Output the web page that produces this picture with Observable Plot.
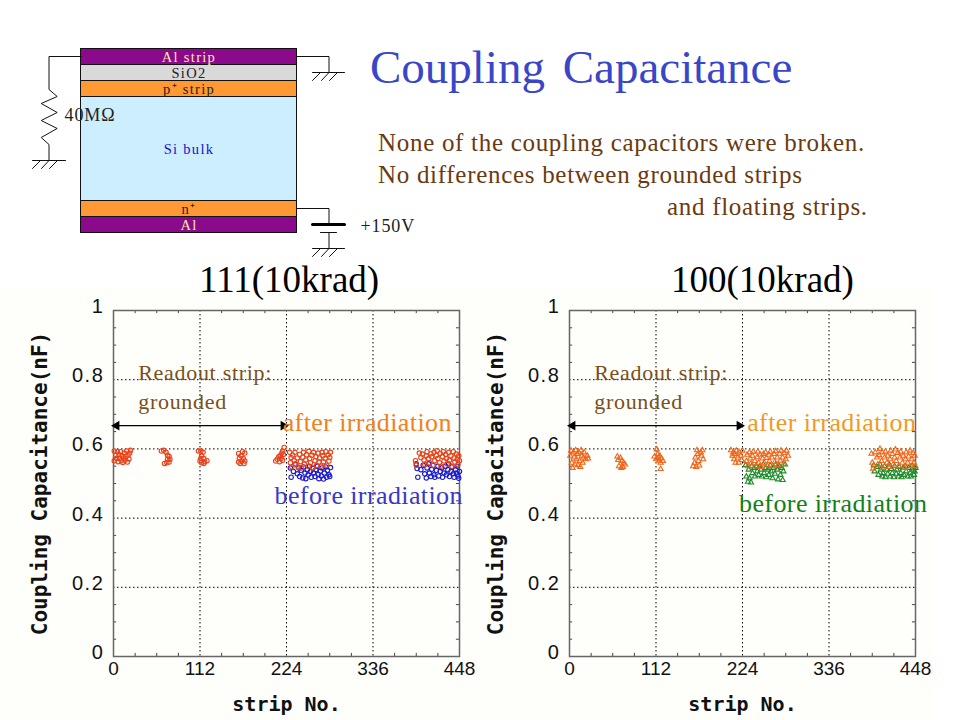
<!DOCTYPE html>
<html><head><meta charset="utf-8">
<script src="https://cdn.jsdelivr.net/npm/d3@7"></script>
<script src="https://cdn.jsdelivr.net/npm/@observablehq/plot@0.6"></script>
<style>
html,body{margin:0;padding:0;background:#fff;width:960px;height:720px;overflow:hidden}
#page{position:relative;width:960px;height:720px;font-family:"Liberation Serif",serif}
#page>div.t{position:absolute;white-space:pre;line-height:1}
#page svg{position:absolute;overflow:visible}
#band{position:absolute;left:0;top:285px;width:932px;height:435px;background:#fefefb}
.ls7 text{letter-spacing:.7px}
.ls4 text{letter-spacing:.4px}
.ls13 text{letter-spacing:1.3px}
.ls9 text{letter-spacing:.9px}
.lsy text{letter-spacing:1.6px}
</style></head><body><div id="page"><div id="band"></div></div>
<script>
// ---------- strip / capacitance ----------
const leftAfter = [
[1,.594],[1,.566],[3,.581],[4,.572],[5,.592],[6,.563],[7,.584],[8,.573],[9,.592],[10,.566],[11,.58],[12,.561],[13,.574],[14,.588],[15,.567],[16,.578],[17,.594],[18,.562],[19,.582],[20,.571],[21,.588],[22,.596],
[62,.594],[65,.596],[68,.59],[70,.582],[72,.578],[73,.57],[72,.562],[69,.56],[66,.558],[70,.57],
[110,.594],[113,.594],[116,.59],[114,.58],[117,.572],[113,.572],[112,.565],[114,.56],[118,.563],[121,.566],[117,.558],
[162,.587],[165,.58],[170,.588],[163,.573],[168,.572],[166,.565],[162,.562],[170,.565],[164,.558],[169,.558],[167,.592],
[210,.565],[212,.57],[215,.563],[214,.577],[216,.581],[217,.572],[218,.588],[219,.594],[220,.584],[221,.604],[219,.567],
[228,.59],[230,.575],[229,.56],[232,.582],[231,.548],[234,.566],[235,.59],[236,.556],[238,.574],[239,.548],[241,.584],[242,.563],[243,.545],[245,.576],[246,.59],[247,.556],[249,.568],[250,.583],[252,.55],[253,.593],[254,.572],[255,.56],[257,.582],[258,.545],[259,.59],[261,.566],[262,.577],[263,.552],[265,.588],[266,.562],[267,.574],[269,.55],[270,.59],[271,.58],[272,.563],[274,.572],[275,.592],[276,.553],[278,.583],[279,.565],[280,.575],[281,.59],
[391,.566],[392,.553],[396,.588],[398,.575],[400,.585],[402,.568],[403,.555],[405,.58],[406,.592],[408,.572],[409,.56],[411,.586],[412,.577],[414,.553],[415,.59],[416,.566],[418,.581],[419,.595],[420,.572],[422,.56],[423,.587],[424,.55],[426,.578],[427,.592],[428,.565],[430,.584],[431,.572],[432,.556],[434,.59],[435,.567],[437,.58],[438,.55],[440,.592],[441,.574],[442,.562],[444,.585],[445,.57],[446,.555],[447,.58],[448,.566]
];
const leftBefore = [
[229,.545],[230,.518],[233,.535],[235,.556],[238,.528],[240,.545],[241,.52],[243,.538],[245,.516],[246,.548],[248,.53],[249,.514],[251,.54],[252,.525],[254,.55],[255,.535],[256,.518],[258,.544],[259,.53],[261,.52],[262,.54],[264,.55],[265,.526],[266,.514],[268,.536],[269,.522],[270,.545],[272,.513],[273,.53],[275,.548],[276,.518],[277,.538],[279,.525],[280,.52],[281,.546],
[392,.557],[393,.543],[394,.518],[398,.54],[401,.553],[403,.528],[405,.516],[406,.545],[408,.557],[409,.53],[411,.52],[412,.541],[414,.552],[415,.525],[416,.518],[418,.538],[420,.55],[421,.522],[423,.535],[425,.545],[426,.518],[428,.53],[430,.55],[431,.525],[433,.54],[434,.556],[435,.52],[437,.535],[438,.548],[440,.528],[441,.518],[443,.54],[444,.53],[445,.55],[446,.522],[447,.515],[448,.535]
];
const rightAfter = [
[1,.58],[2,.595],[3,.56],[4,.545],[5,.59],[6,.575],[7,.555],[8,.596],[9,.57],[10,.585],[11,.553],[12,.59],[13,.565],[14,.548],[15,.596],[16,.58],[17,.56],[18,.575],[19,.59],[21,.57],[23,.58],[24,.572],
[62,.578],[63,.568],[64,.55],[66,.574],[67,.545],[68,.565],[69,.548],[70,.56],[72,.555],
[110,.578],[112,.57],[113,.598],[114,.585],[115,.574],[116,.566],[117,.58],[118,.56],[119,.572],[121,.565],[118,.542],
[160,.55],[162,.56],[163,.575],[164,.548],[165,.596],[166,.585],[167,.565],[168,.552],[170,.59],[171,.58],[172,.596],[173,.57],
[209,.596],[211,.58],[212,.59],[213,.57],[214,.585],[215,.56],[216,.595],[218,.575],[219,.56],[220,.59],[222,.58],[223,.568],[224,.595],
[229,.565],[230,.583],[231,.55],[233,.59],[234,.572],[235,.558],[237,.58],[238,.592],[240,.565],[241,.55],[243,.576],[244,.592],[245,.56],[247,.583],[248,.548],[250,.572],[251,.585],[252,.56],[254,.59],[255,.574],[256,.552],[258,.583],[259,.565],[260,.592],[262,.575],[263,.55],[265,.585],[266,.562],[267,.593],[269,.575],[270,.553],[272,.586],[273,.566],[274,.595],[276,.575],[277,.556],[278,.588],[280,.57],[281,.595],[283,.58],
[391,.586],[392,.56],[393,.543],[396,.59],[398,.575],[399,.555],[401,.582],[402,.6],[404,.565],[405,.59],[406,.545],[408,.575],[409,.592],[411,.56],[412,.58],[414,.548],[415,.57],[416,.595],[418,.585],[419,.555],[421,.575],[422,.598],[423,.565],[425,.588],[426,.55],[428,.575],[429,.592],[431,.56],[432,.58],[434,.545],[435,.57],[436,.59],[438,.56],[439,.578],[441,.595],[442,.55],[443,.57],[445,.588],[446,.56],[447,.58],[448,.55]
];
const rightBefore = [
[228,.553],[229,.52],[231,.505],[232,.54],[233,.515],[235,.503],[236,.55],[237,.53],[239,.545],[240,.52],[242,.55],[243,.535],[245,.525],[246,.548],[248,.54],[249,.52],[251,.555],[252,.53],[254,.545],[255,.518],[257,.54],[258,.525],[260,.552],[261,.535],[263,.515],[264,.545],[266,.528],[267,.555],[269,.54],[270,.512],[272,.55],[273,.525],[275,.545],[276,.51],[277,.535],[279,.555],
[394,.553],[395,.535],[398,.548],[400,.525],[402,.555],[403,.54],[405,.52],[406,.53],[408,.55],[409,.518],[411,.54],[412,.528],[414,.555],[415,.52],[417,.542],[418,.53],[420,.518],[421,.55],[423,.528],[424,.54],[426,.52],[427,.548],[429,.53],[430,.518],[432,.545],[433,.525],[435,.55],[436,.535],[438,.52],[439,.545],[441,.53],[442,.52],[444,.552],[445,.54],[446,.525],[447,.535],[448,.545]
];
const xTicks = [0,112,224,336,448];
const xMinor = [28,56,84,140,168,196,252,280,308,364,392,420];
const yTicks = [0,.2,.4,.6,.8,1];
const yMinor = [.05,.1,.15,.25,.3,.35,.45,.5,.55,.65,.7,.75,.85,.9,.95];

// ---------- device cross-section ----------
const layerNames = ["Al strip","SiO2","p⁺ strip","Si bulk","n⁺","Al"];
const layerThick = [16,16,16,104,16,16];
const layerFill  = ["#8b0a8b","#d9d9d9","#ff9933","#cceeff","#ff9933","#8b0a8b"];
const layerInk   = ["#ffe9a8","#222222","#222222","#1414d0","#222222","#ffe9a8"];
const wires = [
 [[81,56],[48.5,56],[48.5,89],[56.7,96],[40.7,103],[56.7,112],[40.7,120],[56.7,128],[40.7,137],[48.5,144],[48.5,160]],
 [[32,160],[65,160]],[[40,160],[32,168]],[[48.5,160],[41,168]],[[57,160],[49,168]],
 [[296,56],[328.5,56],[328.5,72]],[[312,72],[344,72]],[[320,72],[312,80]],[[328.5,72],[321,80]],[[337,72],[329,80]],
 [[296,208],[328.5,208],[328.5,224]],[[320,232],[336,232]],[[328.5,232],[328.5,248]],[[312,248],[344,248]],[[320,248],[312,256]],[[328.5,248],[321,256]],[[337,248],[329,256]]
];
const batteryPlate = [[312,224],[344,224]];
const notes = [{x:64,y:115,t:"40MΩ"},{x:360,y:226,t:"+150V"}];

const tops = d3.cumsum([48.5,...layerThick]);
const layers = layerNames.map((n,i)=>({n,fill:layerFill[i],ink:layerInk[i],y1:tops[i],y2:tops[i+1]}));

const page = document.getElementById("page");
const diagram = Plot.plot({
  width:430,height:262,margin:0,
  x:{domain:[0,430],range:[0,430],axis:null},
  y:{domain:[0,262],range:[0,262],axis:null},
  style:{background:"transparent",fontFamily:"'Liberation Serif',serif"},
  marks:[
    Plot.rect(layers,{x1:()=>80.5,x2:()=>296.5,y1:"y1",y2:"y2",fill:"fill",stroke:"#111",strokeWidth:1}),
    Plot.text(layers,{x:()=>188.5,y:d=>(d.y1+d.y2)/2,text:"n",fill:"ink",fontSize:14.5,textAnchor:"middle",className:"ls13"}),
    ...wires.map(w=>Plot.line(w,{x:"0",y:"1",stroke:"#111",strokeWidth:1,curve:"linear"})),
    Plot.line(batteryPlate,{x:"0",y:"1",stroke:"#000",strokeWidth:3}),
    Plot.text(notes,{x:"x",y:"y",text:"t",fill:"#222",fontSize:18,textAnchor:"start",className:"ls9"})
  ]
});
diagram.style.left="0";diagram.style.top="0";page.append(diagram);

function chart(left,after,before,afterC,beforeC,sym,r,notesAt){
  const serif="'Liberation Serif',serif", sans="'Liberation Sans',sans-serif";
  const p = Plot.plot({
    width:480,height:435,marginLeft:113,marginRight:21,marginTop:25,marginBottom:64,
    x:{domain:[0,448],axis:null},
    y:{domain:[0,1],axis:null},
    style:{background:"transparent",fontFamily:"'DejaVu Sans Mono',monospace"},
    marks:[
      Plot.gridX(xTicks.slice(1,-1),{stroke:"#000",strokeOpacity:1,strokeWidth:1,strokeDasharray:"1.5 2.5"}),
      Plot.gridY(yTicks.slice(1,-1),{stroke:"#000",strokeOpacity:1,strokeWidth:1,strokeDasharray:"1.5 2.5"}),
      Plot.ruleX(xMinor,{y1:()=>0,y2:()=>.009,stroke:"#444"}),
      Plot.ruleX(xMinor,{y1:()=>.991,y2:()=>1,stroke:"#444"}),
      Plot.ruleY(yMinor,{x1:()=>0,x2:()=>4,stroke:"#444"}),
      Plot.ruleY(yMinor,{x1:()=>444,x2:()=>448,stroke:"#444"}),
      Plot.axisX({anchor:"bottom",ticks:xTicks,tickSize:0,tickPadding:5,fontSize:19,fontFamily:sans,fill:"#111",label:null,tickFormat:d=>String(d)}),
      Plot.axisY({anchor:"left",ticks:yTicks,tickSize:0,tickPadding:9,dy:-4,fontSize:20,fontFamily:sans,fill:"#111",label:null,className:"lsy",tickFormat:d=>String(d)}),
      Plot.frame({stroke:"#666",strokeWidth:1.5}),
      Plot.dot(before,{x:"0",y:"1",symbol:sym,r,stroke:beforeC,strokeWidth:1.1,fill:"none"}),
      Plot.dot(after,{x:"0",y:"1",symbol:sym,r,stroke:afterC,strokeWidth:1.1,fill:"none"}),
      Plot.link([{a:0,b:224,y:.667}],{x1:"a",x2:"b",y1:"y",y2:"y",stroke:"#000",strokeWidth:1.2}),
      Plot.dot([[4,.667]],{x:"0",y:"1",symbol:"triangle",r:3.6,rotate:-90,fill:"#000",stroke:"none"}),
      Plot.dot([[220,.667]],{x:"0",y:"1",symbol:"triangle",r:3.6,rotate:90,fill:"#000",stroke:"none"}),
      Plot.text(["Coupling Capacitance(nF)"],{frameAnchor:"left",textAnchor:"middle",rotate:-90,dx:-73,fontSize:21,fontWeight:"bold",fill:"#111"}),
      Plot.text(["strip No."],{frameAnchor:"bottom",dy:54,fontSize:20,fontWeight:"bold",fill:"#111"}),
      Plot.text(["Readout strip:"],{x:()=>32,y:()=>.82,textAnchor:"start",fontSize:22,fill:"#7a5020",fontFamily:serif,className:"ls7"}),
      Plot.text(["grounded"],{x:()=>32,y:()=>.737,textAnchor:"start",fontSize:22,fill:"#7a5020",fontFamily:serif,className:"ls7"}),
      Plot.text(["after irradiation"],{x:()=>notesAt.ax,y:()=>.676,textAnchor:"start",fontSize:26,fill:notesAt.ac,fontFamily:serif,className:"ls4"}),
      Plot.text(["before irradiation"],{x:()=>notesAt.bx,y:()=>notesAt.by,textAnchor:"start",fontSize:26,fill:notesAt.bc,fontFamily:serif,className:"ls4"})
    ]
  });
  p.style.left=left+"px";p.style.top="285px";page.append(p);
}
chart(0,leftAfter,leftBefore,"#e8421a","#1a1ad0","circle",2.2,{ax:219,ac:"#f08020",bx:208.5,by:.465,bc:"#3838c8"});
chart(455.5,rightAfter,rightBefore,"#f0661a","#1e8c2a","triangle",1.9,{ax:230,ac:"#f09a28",bx:219.5,by:.442,bc:"#108020"});

const texts=[
 {s:"Coupling Capacitance",x:370,y:44,z:47,c:"#3a46c8",ws:6,ls:0},
 {s:"None of the coupling capacitors were broken.",x:378,y:130,z:25,c:"#6b3a10",ws:0,ls:.7},
 {s:"No differences between grounded strips",x:378,y:162,z:25,c:"#6b3a10",ws:0,ls:.7},
 {s:"and floating strips.",x:667,y:194,z:25,c:"#6b3a10",ws:0,ls:.7},
 {s:"111(10krad)",x:199,y:261,z:37,c:"#000",ws:0,ls:0},
 {s:"100(10krad)",x:671,y:261,z:37,c:"#000",ws:0,ls:0}
];
for(const t of texts){
  const d=document.createElement("div");d.className="t";d.textContent=t.s;
  d.style.cssText=`left:${t.x}px;top:${t.y}px;font-size:${t.z}px;color:${t.c};word-spacing:${t.ws}px;letter-spacing:${t.ls}px`;
  page.append(d);
}
</script></body></html>
